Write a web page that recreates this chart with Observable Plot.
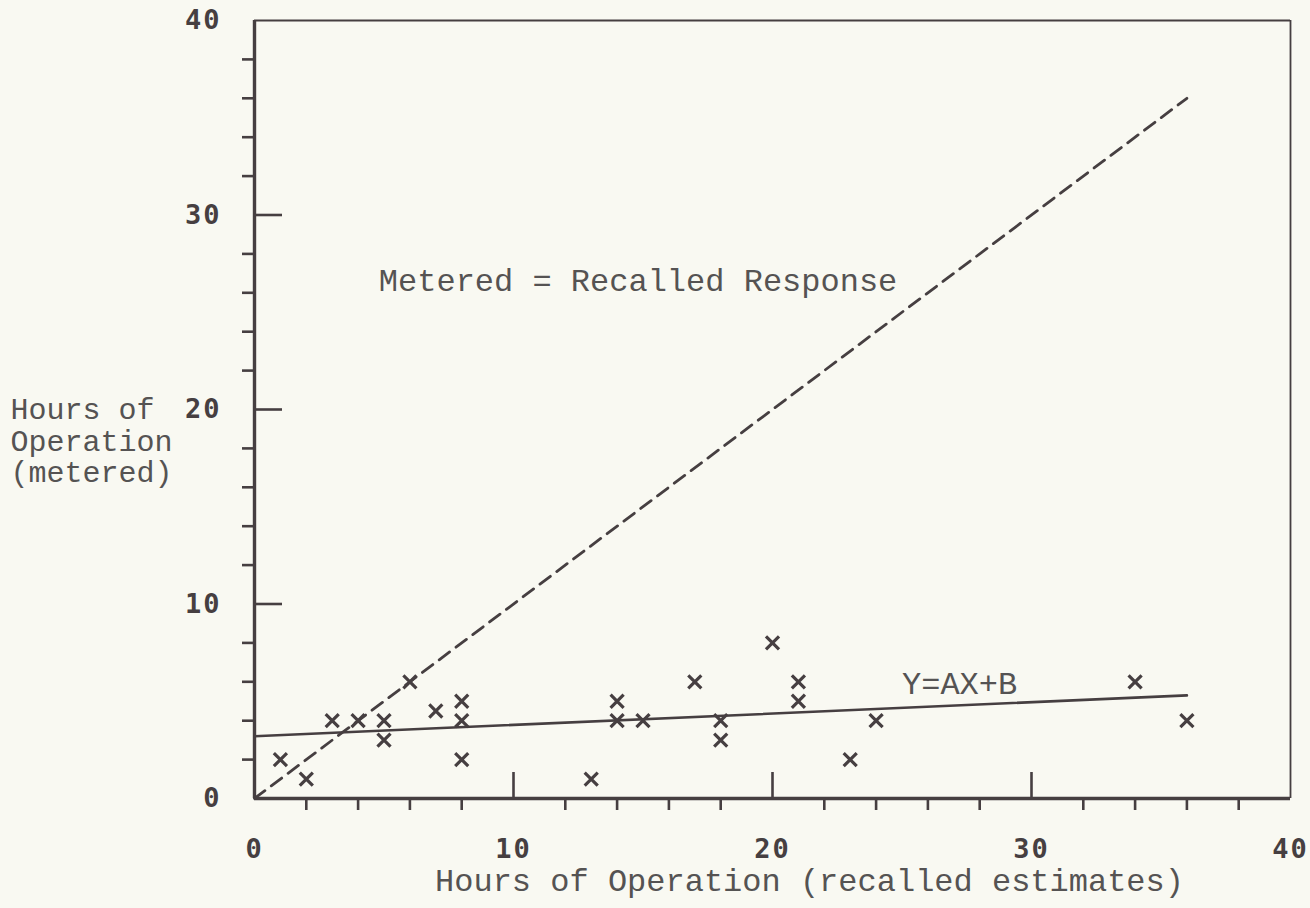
<!DOCTYPE html>
<html><head><meta charset="utf-8">
<script src="https://cdn.jsdelivr.net/npm/d3@7"></script>
<script src="https://cdn.jsdelivr.net/npm/@observablehq/plot@0.6"></script>
<style>
html,body{margin:0;padding:0;background:#f9f9f2;}
#chart svg{display:block;}
[aria-label="x-axis tick label"] text,[aria-label="y-axis tick label"] text{letter-spacing:2px}
</style></head><body><div id="chart"></div>
<script>
// Data
const recalled = [1, 2, 3, 4, 5, 5, 6, 7, 8, 8, 8, 13, 14, 14, 15, 17, 18, 18, 20, 21, 21, 23, 24, 34, 36];
const metered  = [2, 1, 4, 4, 4, 3, 6, 4.5, 5, 4, 2, 1, 5, 4, 4, 6, 4, 3, 8, 6, 5, 2, 4, 6, 4];
const fitX = [0, 36];
const fitY = [3.2, 5.3];
const equalityX = [0, 36];
const labelTicks = [0, 10, 20, 30, 40];
const majorTicks = [10, 20, 30];
const minorTicks = [2, 4, 6, 8, 12, 14, 16, 18, 22, 24, 26, 28, 32, 34, 36, 38];
const xTitle = "Hours of Operation (recalled estimates)";
const yTitle = "Hours of\nOperation\n(metered)";
const annotations = [
  {text: "Metered = Recalled Response", x: 4.8, y: 26.6},
  {text: "Y=AX+B", x: 25.0, y: 5.9}
];

const points = recalled.map((x, i) => ({x, y: metered[i]}));
const fitLine = fitX.map((x, i) => ({x, y: fitY[i]}));
const eqLine = equalityX.map(x => ({x, y: x}));
const ink = "#463f41";
const textInk = "#555353";
const mono = "Liberation Mono, Courier New, monospace";
const digits = "DejaVu Sans Mono, monospace";

const chart = Plot.plot({
  width: 1310, height: 908,
  marginLeft: 254, marginRight: 20, marginTop: 20, marginBottom: 110,
  x: {domain: [0, 40]},
  y: {domain: [0, 40]},
  style: {background: "#f9f9f2", color: ink, overflow: "visible"},
  marks: [
    // frame
    Plot.ruleY([40], {stroke: ink, strokeWidth: 2.2}),
    Plot.ruleX([40], {stroke: ink, strokeWidth: 1.8}),
    Plot.ruleY([0], {stroke: ink, strokeWidth: 3.4}),
    Plot.ruleX([0], {stroke: ink, strokeWidth: 3.4}),
    // x ticks
    Plot.axisX(minorTicks, {anchor: "bottom", tickSize: 12, tickFormat: () => "", label: null, stroke: ink, strokeWidth: 2.6}),
    Plot.axisX(majorTicks, {anchor: "bottom", tickSize: 26, dy: -26, tickFormat: () => "", label: null, stroke: ink, strokeWidth: 2.6}),
    Plot.axisX(labelTicks, {anchor: "bottom", tickSize: 0, tickPadding: 40, label: null, fontFamily: digits, fontSize: 27, fontWeight: "bold", fill: ink}),
    // y ticks
    Plot.axisY(minorTicks, {anchor: "left", tickSize: 12, tickFormat: () => "", label: null, stroke: ink, strokeWidth: 2.6}),
    Plot.axisY(majorTicks, {anchor: "left", tickSize: 28, dx: 28, tickFormat: () => "", label: null, stroke: ink, strokeWidth: 2.6}),
    Plot.axisY(labelTicks, {anchor: "left", tickSize: 0, tickPadding: 33, label: null, fontFamily: digits, fontSize: 27, fontWeight: "bold", fill: ink}),
    // lines
    Plot.line(eqLine, {x: "x", y: "y", stroke: ink, strokeWidth: 2.8, strokeDasharray: "13,8"}),
    Plot.line(fitLine, {x: "x", y: "y", stroke: ink, strokeWidth: 2.6}),
    // points
    Plot.dot(points, {x: "x", y: "y", symbol: "times", r: 6, stroke: ink, strokeWidth: 3.2}),
    // annotations
    Plot.text(annotations, {x: "x", y: "y", text: "text", textAnchor: "start", fontFamily: mono, fontSize: 32, fill: textInk}),
    // axis titles
    Plot.text([xTitle], {frameAnchor: "bottom", dx: 37, dy: 92, fontFamily: mono, fontSize: 32, fill: textInk}),
    Plot.text([yTitle], {frameAnchor: "top-left", dx: -244, dy: 420, textAnchor: "start", lineAnchor: "middle", lineHeight: 1.05, fontFamily: mono, fontSize: 30, fill: textInk})
  ]
});
document.getElementById("chart").appendChild(chart);
</script></body></html>
